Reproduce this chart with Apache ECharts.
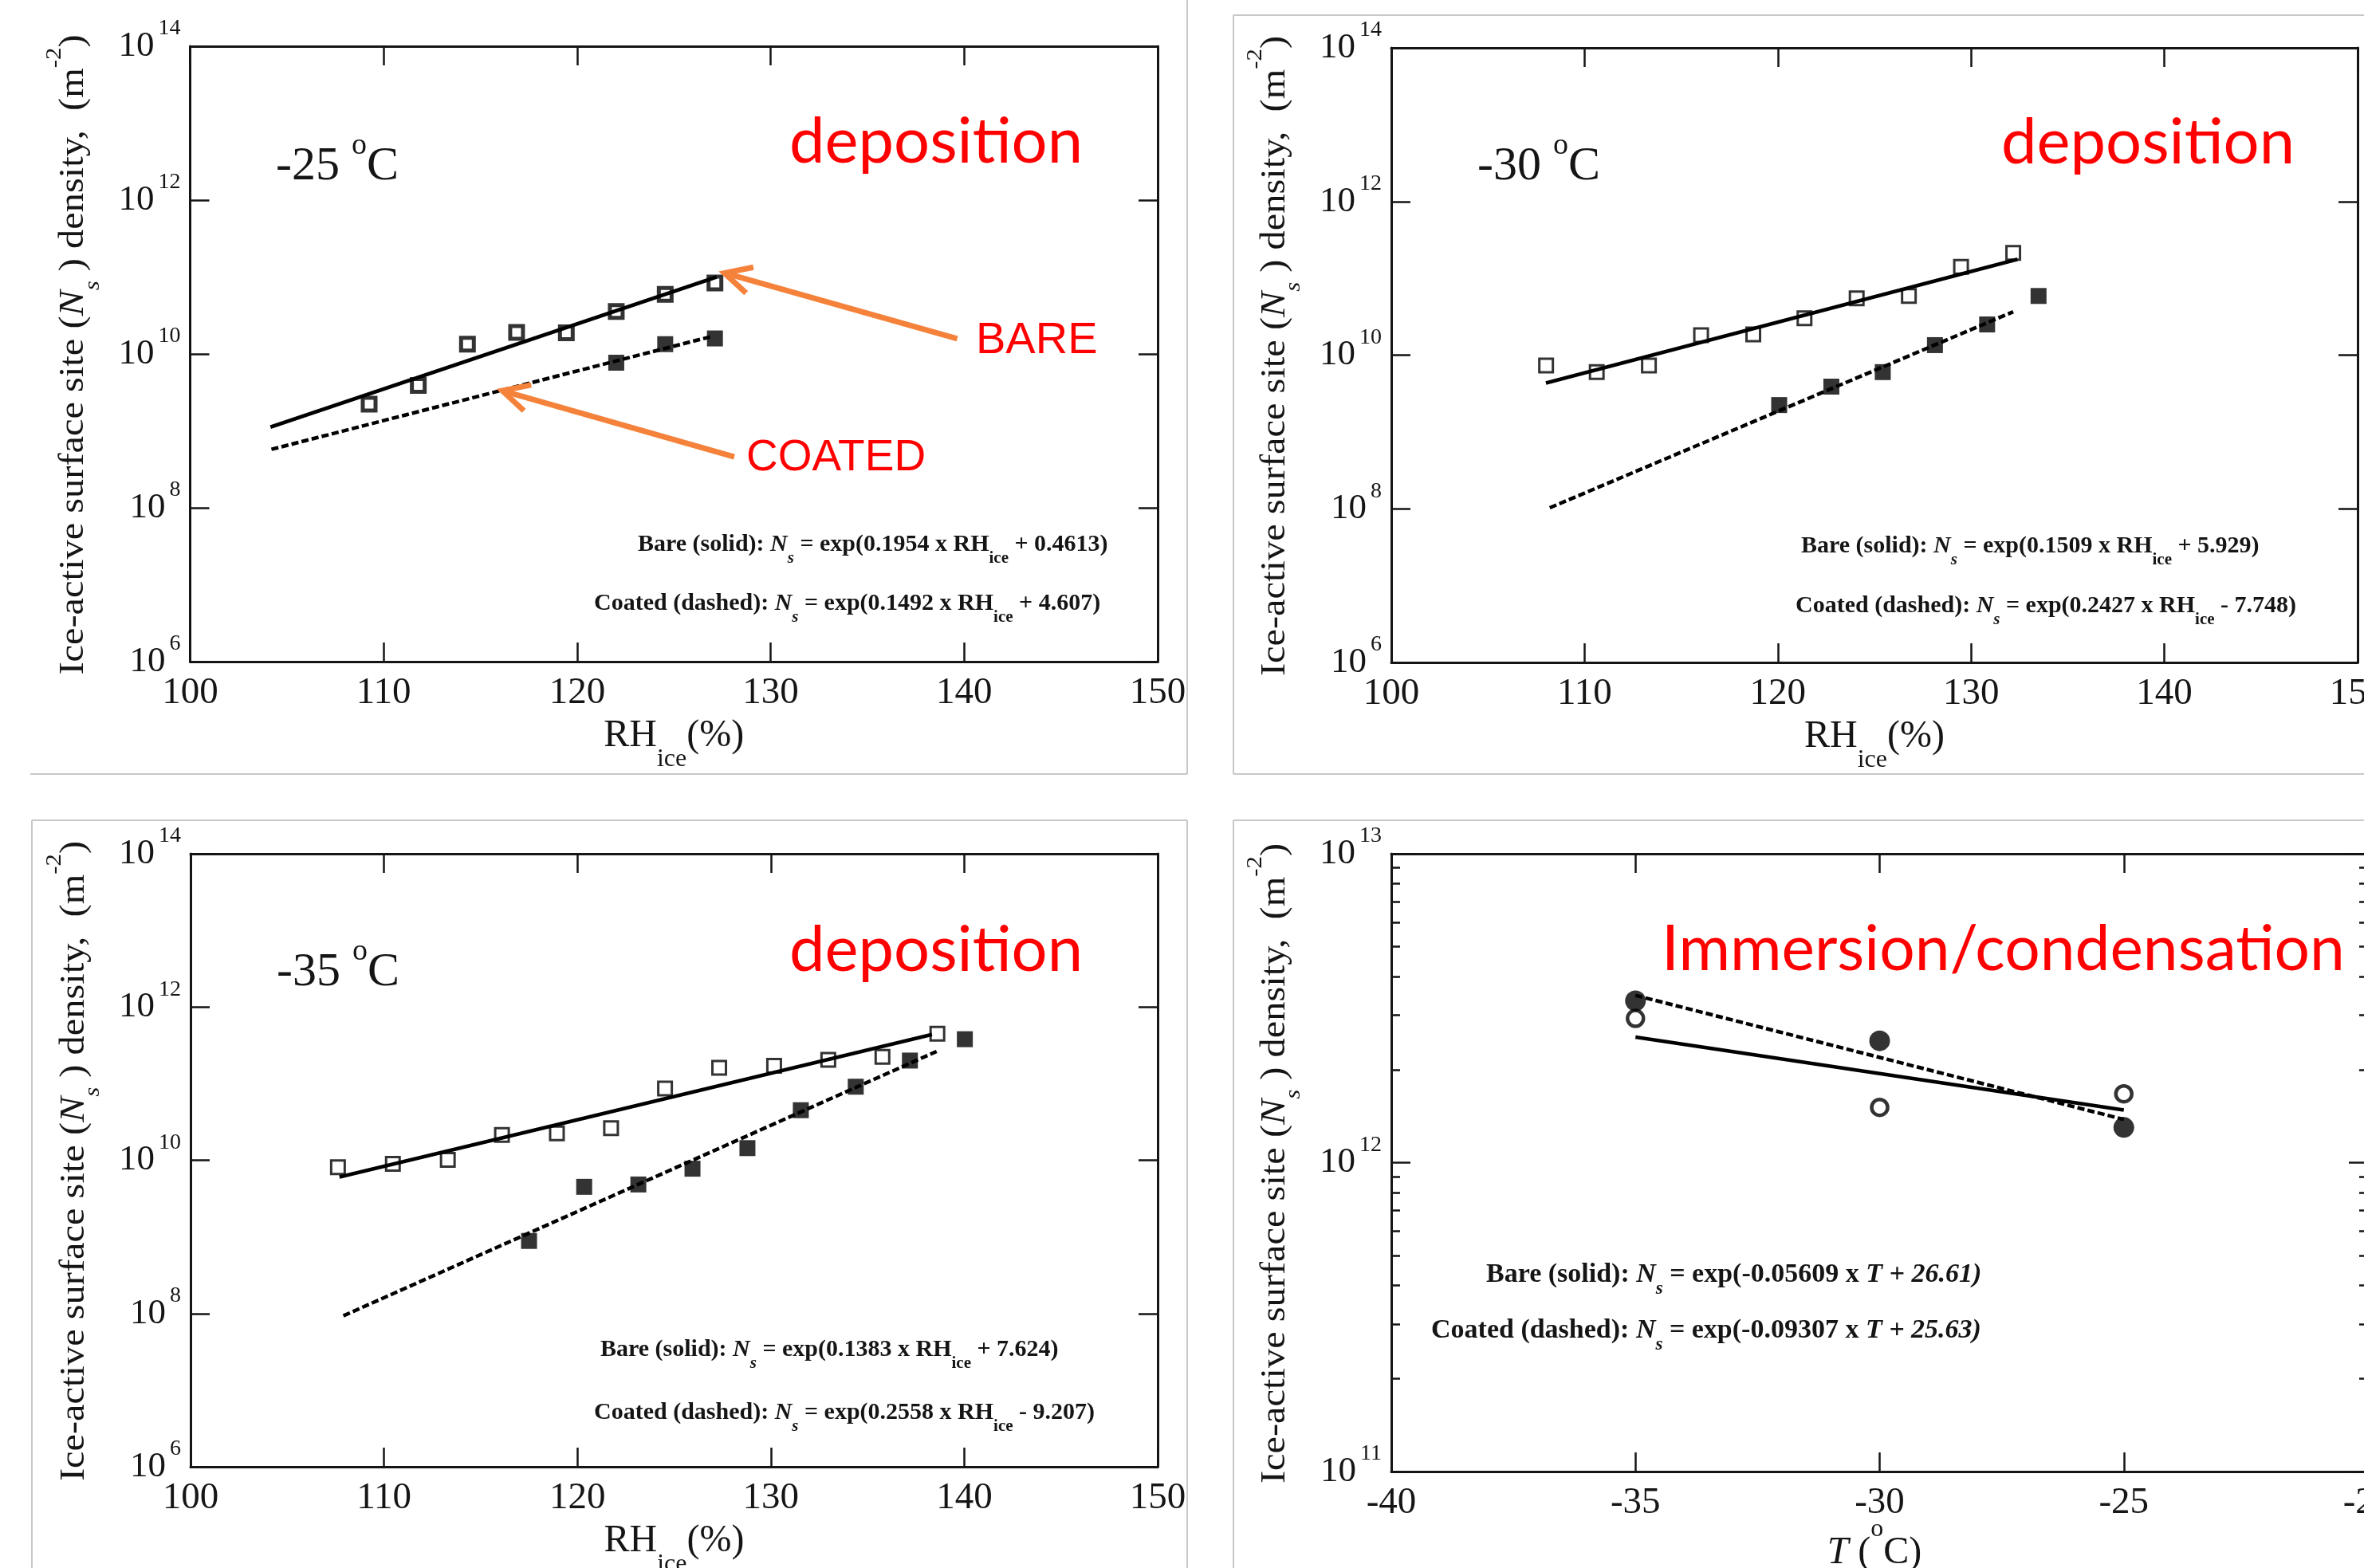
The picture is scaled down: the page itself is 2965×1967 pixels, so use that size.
<!DOCTYPE html>
<html>
<head>
<meta charset="utf-8">
<script src="https://cdn.jsdelivr.net/npm/echarts@6/dist/echarts.min.js"></script>
<style>
  html, body { margin: 0; padding: 0; background: #ffffff; overflow: hidden; }
  #chart { width: 2965px; height: 1967px; }
</style>
</head>
<body>
<div id="chart"></div>
<script>
// ---- -25 °C, deposition ----
const rh25Bare = [109.25, 111.79, 114.33, 116.87, 119.44, 122.02, 124.55, 127.12];
const ns25Bare = [2.23e9, 3.89e9, 1.34e10, 1.91e10, 1.88e10, 3.56e10, 5.94e10, 8.36e10];
const rh25Coated = [122.02, 124.55, 127.12];
const ns25Coated = [7.69e9, 1.34e10, 1.59e10];
const fit25Bare = [[104.15, 1.12e9], [127.2, 1.0e11]];
const fit25Coated = [[104.2, 5.75e8], [127.0, 1.70e10]];

// ---- -30 °C, deposition ----
const rh30Bare = [108.01, 110.63, 113.33, 116.03, 118.73, 121.38, 124.08, 126.78, 129.48, 132.18];
const ns30Bare = [7.31e9, 6.01e9, 7.31e9, 1.82e10, 1.86e10, 3.02e10, 5.50e10, 5.89e10, 1.41e11, 2.14e11];
const rh30Coated = [120.07, 122.77, 125.43, 128.13, 130.83, 133.49];
const ns30Coated = [2.24e9, 3.89e9, 6.01e9, 1.35e10, 2.51e10, 5.89e10];
const fit30Bare = [[108.0, 4.33e9], [132.4, 1.77e11]];
const fit30Coated = [[108.2, 1.03e8], [132.18, 3.67e10]];

// ---- -35 °C, deposition ----
const rh35Bare = [107.62, 110.46, 113.30, 116.10, 118.94, 121.74, 124.53, 127.33, 130.17, 132.97, 135.77, 138.61];
const ns35Bare = [8.11e9, 8.98e9, 1.01e10, 2.14e10, 2.24e10, 2.63e10, 8.65e10, 1.61e11, 1.71e11, 2.04e11, 2.24e11, 4.47e11];
const rh35Coated = [117.5, 120.35, 123.15, 125.95, 128.79, 131.55, 134.39, 137.19, 140.03];
const ns35Coated = [8.85e8, 4.50e9, 4.83e9, 7.76e9, 1.44e10, 4.50e10, 9.12e10, 2.00e11, 3.80e11];
const fit35Bare = [[107.7, 6.04e9], [138.33, 4.37e11]];
const fit35Coated = [[107.9, 9.33e7], [138.57, 2.63e11]];

// ---- immersion / condensation vs temperature ----
const tempC = [-35, -30, -25];
const nsImmBare = [2.93e12, 1.51e12, 1.67e12];
const nsImmCoated = [3.34e12, 2.48e12, 1.30e12];
const fitImmBare = [[-35, 2.55e12], [-25, 1.48e12]];
const fitImmCoated = [[-35, 3.48e12], [-25, 1.38e12]];

// ---- axis ranges (decade exponents on the N_s axes) ----
const rhTicks = { min: 100, max: 150, step: 10 };
const tTicks = { min: -40, max: -20, step: 5 };
const depDecades = { min: 6, max: 14, step: 2 };
const immDecades = { min: 11, max: 13, step: 1 };
const immMinorMultipliers = [2, 3, 4, 5, 6, 7, 8, 9];

// ---- equation strings ----
const eqText = [
  ['0.1954 x RH', '+ 0.4613)', '0.1492 x RH', '+ 4.607)'],
  ['0.1509 x RH', '+ 5.929)', '0.2427 x RH', '- 7.748)'],
  ['0.1383 x RH', '+ 7.624)', '0.2558 x RH', '- 9.207)']
];

const SERIF = '"Liberation Serif", "Times New Roman", serif';
const SANS = '"Liberation Sans", Arial, sans-serif';
const HUMANIST = 'Lato, "Open Sans", sans-serif';
const INK = '#151515';
const RED = '#ff0000';
const ORANGE = '#f5823b';
const FRAME = '#c8c8c8';

const layout = [
  { left: 238.5, top: 58, width: 1213.5, height: 772 },
  { left: 1745, top: 60, width: 1212, height: 771 },
  { left: 239, top: 1071, width: 1213, height: 769 },
  { left: 1745, top: 1071, width: 1225, height: 775 }
];

const log10 = Math.log10;
const pairs = (xs, ys) => xs.map((x, i) => [x, log10(ys[i])]);
const linePts = (pts) => pts.map(p => [p[0], log10(p[1])]);

function yRich() {
  return {
    b: { fontFamily: SERIF, fontSize: 45, lineHeight: 72, color: INK },
    s: { fontFamily: SERIF, fontSize: 28, lineHeight: 28, verticalAlign: 'top', color: INK, padding: [0, 0, 0, 5] }
  };
}

const xAxes = [], yAxes = [];
function addAxes(g, xr, yr) {
  const axisLine = { onZero: false, lineStyle: { color: INK, width: 3 } };
  const tick = { inside: true, length: 24, lineStyle: { color: INK, width: 2.5 } };
  const xb = { gridIndex: g, type: 'value', min: xr.min, max: xr.max, interval: xr.step,
    axisLine, axisTick: tick, splitLine: { show: false } };
  xAxes.push(Object.assign({}, xb, { position: 'bottom',
    axisLabel: { margin: 16, fontFamily: SERIF, fontSize: 47, color: INK, showMinLabel: true, showMaxLabel: true } }));
  xAxes.push(Object.assign({}, xb, { position: 'top', axisLabel: { show: false } }));
  const yb = { gridIndex: g, type: 'value', min: yr.min, max: yr.max, interval: yr.step,
    axisLine, axisTick: tick, splitLine: { show: false } };
  yAxes.push(Object.assign({}, yb, { position: 'left',
    axisLabel: { margin: 12, showMinLabel: true, showMaxLabel: true,
      formatter: v => '{b|10}{s|' + v + '}', rich: yRich() } }));
  yAxes.push(Object.assign({}, yb, { position: 'right', axisLabel: { show: false } }));
}
addAxes(0, rhTicks, depDecades);
addAxes(1, rhTicks, depDecades);
addAxes(2, rhTicks, depDecades);
addAxes(3, tTicks, immDecades);

// minor (2..9) ticks of the immersion panel, placed on log-spaced positions
const immMinor = [];
for (let d = immDecades.min; d < immDecades.max; d++) {
  immMinorMultipliers.forEach(m => immMinor.push(d + log10(m)));
}
['left', 'right'].forEach(pos => {
  yAxes.push({ gridIndex: 3, type: 'value', min: immDecades.min, max: immDecades.max, position: pos,
    axisLine: { show: false }, axisLabel: { show: false }, splitLine: { show: false },
    axisTick: { inside: true, length: 11, customValues: immMinor, lineStyle: { color: INK, width: 2.5 } } });
});

const series = [];
function fitLine(g, pts, dashed) {
  series.push({ type: 'line', xAxisIndex: 2 * g, yAxisIndex: 2 * g, data: linePts(pts),
    symbol: 'none', showSymbol: false, silent: true, z: 2,
    lineStyle: { color: '#000', width: 4.5, type: dashed ? [9, 4] : 'solid', cap: 'butt' } });
}
function points(g, xs, ys, shape, filled, size, bw) {
  series.push({ type: 'scatter', xAxisIndex: 2 * g, yAxisIndex: 2 * g, data: pairs(xs, ys),
    symbol: shape, symbolSize: size, silent: true, z: 3,
    itemStyle: filled ? { color: '#000', borderWidth: 0 }
                      : { color: 'rgba(255,255,255,0)', borderColor: '#000', borderWidth: bw } });
}
fitLine(0, fit25Bare, false); fitLine(0, fit25Coated, true);
points(0, rh25Bare, ns25Bare, 'rect', false, 16, 5);
points(0, rh25Coated, ns25Coated, 'rect', true, 20);
fitLine(1, fit30Bare, false); fitLine(1, fit30Coated, true);
points(1, rh30Bare, ns30Bare, 'rect', false, 17, 3);
points(1, rh30Coated, ns30Coated, 'rect', true, 20);
fitLine(2, fit35Bare, false); fitLine(2, fit35Coated, true);
points(2, rh35Bare, ns35Bare, 'rect', false, 17, 3);
points(2, rh35Coated, ns35Coated, 'rect', true, 20);
fitLine(3, fitImmBare, false); fitLine(3, fitImmCoated, true);
points(3, tempC, nsImmBare, 'circle', false, 20, 4.5);
points(3, tempC, nsImmCoated, 'circle', true, 26);

const chart = echarts.init(document.getElementById('chart'), null, { renderer: 'canvas' });
chart.setOption({
  backgroundColor: '#ffffff',
  animation: false,
  grid: layout.map(l => Object.assign({ containLabel: false, outerBoundsMode: 'none' }, l)),
  xAxis: xAxes,
  yAxis: yAxes,
  series: series
});

// ---------- annotations ----------
const mid = (baseline, fs) => baseline - 0.31 * fs;
const gfx = [];
function hline(x1, x2, y) { gfx.push({ type: 'line', shape: { x1, y1: y, x2, y2: y }, style: { stroke: FRAME, lineWidth: 2 }, silent: true }); }
function vline(x, y1, y2) { gfx.push({ type: 'line', shape: { x1: x, y1, x2: x, y2 }, style: { stroke: FRAME, lineWidth: 2 }, silent: true }); }
// panel frames
vline(1489, 0, 971); hline(38, 1489, 971);
vline(1547, 19, 971); hline(1547, 2965, 19); hline(1547, 2965, 971);
vline(40, 1029, 1967); hline(40, 1489, 1029); vline(1489, 1029, 1967);
vline(1547, 1029, 1967); hline(1547, 2965, 1029);

function richText(x, y, text, rich, extra) {
  gfx.push(Object.assign({ type: 'text', x, y, silent: true, z: 10,
    style: { text, rich, align: 'left', verticalAlign: 'middle', fill: INK } }, extra || {}));
}

// y titles (rotated)
const yTitleRich = {
  a: { fontFamily: SERIF, fontSize: 44, lineHeight: 76, color: INK },
  i: { fontFamily: SERIF, fontStyle: 'italic', fontSize: 44, lineHeight: 76, color: INK },
  sb: { fontFamily: SERIF, fontStyle: 'italic', fontSize: 28, lineHeight: 28, verticalAlign: 'bottom', color: INK },
  sp: { fontFamily: SERIF, fontSize: 28, lineHeight: 18, verticalAlign: 'top', color: INK }
};
const yTitle = '{a|Ice-active surface site (}{i|N}{sb|s}{a| ) density,  (m}{sp|-2}{a|)}';
layout.forEach(l => {
  gfx.push({ type: 'text', x: l.left - 146, y: l.top + l.height / 2 + 1, rotation: Math.PI / 2, scaleX: 1.1,
    silent: true, z: 10,
    style: { text: yTitle, rich: yTitleRich, align: 'center', verticalAlign: 'middle', fill: INK } });
});

// x titles
const xTitleRich = {
  a: { fontFamily: SERIF, fontSize: 48, lineHeight: 91, color: INK },
  i: { fontFamily: SERIF, fontStyle: 'italic', fontSize: 48, lineHeight: 91, color: INK },
  sb: { fontFamily: SERIF, fontSize: 32, lineHeight: 32, verticalAlign: 'bottom', color: INK },
  sp: { fontFamily: SERIF, fontSize: 32, lineHeight: 30, verticalAlign: 'top', color: INK }
};
[0, 1, 2].forEach(g => {
  const l = layout[g];
  gfx.push({ type: 'text', x: l.left + l.width / 2, y: l.top + l.height + 93, silent: true, z: 10,
    style: { text: '{a|RH}{sb|ice}{a|(%)}', rich: xTitleRich, align: 'center', verticalAlign: 'middle', fill: INK } });
});
gfx.push({ type: 'text', x: 2351, y: 1948, silent: true, z: 10,
  style: { text: '{i|T}{a| (}{sp|o}{a|C)}', rich: xTitleRich, align: 'center', verticalAlign: 'middle', fill: INK } });

// temperature tags
const tempRich = {
  a: { fontFamily: SERIF, fontSize: 60, lineHeight: 90, color: INK },
  sp: { fontFamily: SERIF, fontSize: 38, lineHeight: 38, verticalAlign: 'top', color: INK }
};
[['-25', 346, 228], ['-30', 1853, 228], ['-35', 347, 1239]].forEach(t => {
  richText(t[1], mid(t[2], 60), '{a|' + t[0] + ' }{sp|o}{a|C}', tempRich);
});

// regime labels
function plain(x, baseline, text, font, fs, color) {
  gfx.push({ type: 'text', x, y: mid(baseline, fs), silent: true, z: 10,
    style: { text, fontFamily: font, fontSize: fs, fill: color, align: 'left', verticalAlign: 'middle' } });
}
plain(990, 203, 'deposition', HUMANIST, 79.5, RED);
plain(2510, 204, 'deposition', HUMANIST, 79.5, RED);
plain(990, 1217, 'deposition', HUMANIST, 79.5, RED);
plain(2084, 1216, 'Immersion/condensation', HUMANIST, 78.5, RED);
plain(1224, 445, 'BARE', SANS, 56, RED);
plain(936, 592, 'COATED', SANS, 55, RED);

// fit equations
function eqRich(fs, sub, lh) {
  const base = { fontFamily: SERIF, fontWeight: 'bold', color: INK };
  return {
    b: Object.assign({ fontSize: fs, lineHeight: lh }, base),
    i: Object.assign({ fontSize: fs, lineHeight: lh, fontStyle: 'italic' }, base),
    s: Object.assign({ fontSize: sub, lineHeight: sub, verticalAlign: 'bottom' }, base),
    si: Object.assign({ fontSize: sub, lineHeight: sub, verticalAlign: 'bottom', fontStyle: 'italic' }, base)
  };
}
const eqPos = [
  [[800, 693], [745, 767]],
  [[2259, 695], [2252, 770]],
  [[753, 1703], [745, 1782]]
];
eqText.forEach((e, g) => {
  const r = eqRich(30, 21, 55);
  richText(eqPos[g][0][0], mid(eqPos[g][0][1], 30),
    '{b|Bare (solid): }{i|N}{si|s}{b| = exp(' + e[0] + '}{s|ice}{b| ' + e[1] + '}', r);
  richText(eqPos[g][1][0], mid(eqPos[g][1][1], 30),
    '{b|Coated (dashed): }{i|N}{si|s}{b| = exp(' + e[2] + '}{s|ice}{b| ' + e[3] + '}', r);
});
{
  const r = eqRich(34, 23, 59);
  richText(1864, mid(1610, 34), '{b|Bare (solid): }{i|N}{si|s}{b| = exp(-0.05609 x }{i|T + 26.61)}', r);
  richText(1795, mid(1680, 34), '{b|Coated (dashed): }{i|N}{si|s}{b| = exp(-0.09307 x }{i|T + 25.63)}', r);
}

// arrows pointing at the two fits of the -25 °C panel (data coordinates: RH, log10 N_s)
const arrowNotes = [
  { tail: [139.64, 10.197], tip: [127.61, 11.052] },
  { tail: [128.12, 8.663], tip: [116.13, 9.523] }
];
arrowNotes.forEach(a => {
  const t = chart.convertToPixel({ xAxisIndex: 0, yAxisIndex: 0 }, a.tail);
  const h = chart.convertToPixel({ xAxisIndex: 0, yAxisIndex: 0 }, a.tip);
  const dx = t[0] - h[0], dy = t[1] - h[1];
  const len = Math.hypot(dx, dy), ux = dx / len, uy = dy / len;
  const ang = 27 * Math.PI / 180, wl = 37;
  const w1 = [h[0] + wl * (ux * Math.cos(ang) - uy * Math.sin(ang)), h[1] + wl * (ux * Math.sin(ang) + uy * Math.cos(ang))];
  const w2 = [h[0] + wl * (ux * Math.cos(-ang) - uy * Math.sin(-ang)), h[1] + wl * (ux * Math.sin(-ang) + uy * Math.cos(-ang))];
  const st = { stroke: ORANGE, lineWidth: 7, fill: null, lineCap: 'butt', lineJoin: 'miter' };
  gfx.push({ type: 'polyline', shape: { points: [t, h] }, style: st, silent: true, z: 9 });
  gfx.push({ type: 'polyline', shape: { points: [w1, h, w2] }, style: st, silent: true, z: 9 });
});

chart.setOption({ graphic: gfx });
</script>
</body>
</html>
